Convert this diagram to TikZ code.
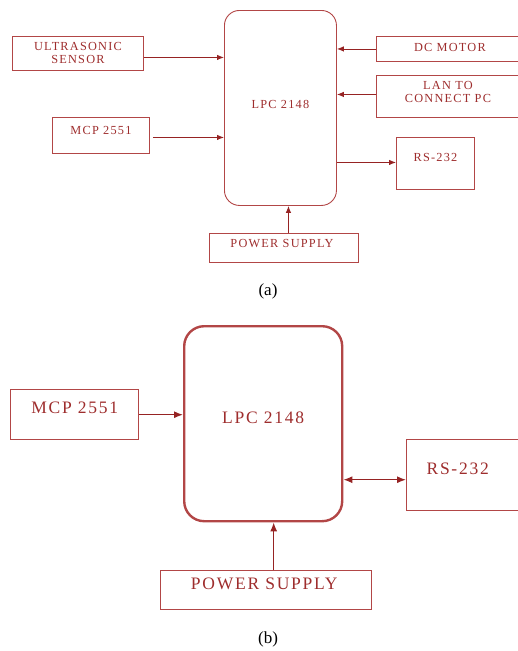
\documentclass[tikz,border=0pt]{standalone}
\usepackage{fontspec}
\setmainfont{Liberation Serif}
\newfontfamily\boxfont[LetterSpace=10]{Liberation Serif}
\usetikzlibrary{arrows.meta}
\definecolor{boxcol}{RGB}{178,70,70}
\definecolor{arrcol}{RGB}{150,35,35}
\definecolor{txtcol}{RGB}{158,45,45}
\tikzset{
  blk/.style={draw=boxcol, line width=0.9pt, anchor=north west, inner sep=0pt},
  blkb/.style={draw=boxcol, line width=1.4pt, anchor=north west, inner sep=0pt},
  lbla/.style={text=txtcol, font=\boxfont\fontsize{12.3}{13}\selectfont, align=center, inner sep=0pt},
  lblb/.style={text=txtcol, font=\boxfont\fontsize{17.5}{20}\selectfont, align=center, inner sep=0pt},
  arra/.style={draw=arrcol, line width=0.9pt, -{Latex[length=7pt,width=5.5pt]}},
  arrb/.style={draw=arrcol, line width=1.2pt, -{Latex[length=9pt,width=7pt]}},
  arrbb/.style={draw=arrcol, line width=1.2pt, {Latex[length=9pt,width=7pt]}-{Latex[length=9pt,width=7pt]}},
  captxt/.style={font=\fontsize{17}{20}\selectfont, inner sep=0pt}
}
\begin{document}
\begin{tikzpicture}[x=1pt,y=-1pt]
\useasboundingbox (0,0) rectangle (518,651);
% ---------- (a)
\node[blk, rounded corners=15pt, minimum width=112pt, minimum height=195pt] (lpcA) at (224,10) {};
\node[lbla] (lpcAt) at ([yshift=3.5pt]lpcA.center) {LPC 2148};
\node[blk, minimum width=131pt, minimum height=34pt] (ultra) at (12,36) {};
\node[lbla] (ultrat) at (ultra.center) {ULTRASONIC\\SENSOR};
\node[blk, minimum width=97pt, minimum height=36pt] (mcpA) at (52,117) {};
\node[lbla] (mcpAt) at ([yshift=5pt]mcpA.center) {MCP 2551};
\node[blk, minimum width=143pt, minimum height=25pt] (dc) at (376,36) {};
\node[lbla] (dct) at ([xshift=2pt,yshift=1.5pt]dc.center) {DC MOTOR};
\node[blk, minimum width=143pt, minimum height=42pt] (lan) at (376,75) {};
\node[lbla] (lant) at ([yshift=4pt]lan.center) {LAN TO\\CONNECT PC};
\node[blk, minimum width=78pt, minimum height=52pt] (rsA) at (396,137) {};
\node[lbla] (rsAt) at ([yshift=6pt]rsA.center) {RS-232};
\node[blk, minimum width=149pt, minimum height=29pt] (pwA) at (209,233) {};
\node[lbla] (pwAt) at ([xshift=-2pt,yshift=4.5pt]pwA.center) {POWER SUPPLY};
\node[captxt] (capA) at (268,291) {(a)};

\draw[arra] ([yshift=-4pt]ultra.east) -- ([yshift=-4pt]ultra.east -| lpcA.west);
\draw[arra] ([xshift=3pt,yshift=-2pt]mcpA.east) -- ([yshift=-2pt]mcpA.east -| lpcA.west);
\draw[arra] (dc.west) -- (dc.west -| lpcA.east);
\draw[arra] ([yshift=2pt]lan.west) -- ([yshift=2pt]lan.west -| lpcA.east);
\draw[arra] ([yshift=1pt]rsA.west -| lpcA.east) -- ([yshift=1pt]rsA.west);
\draw[arra] ([xshift=4.5pt]pwA.north) -- ([xshift=4.5pt]pwA.north |- lpcA.south);

% ---------- (b)
\node[draw=boxcol, line width=2.4pt, anchor=north west, inner sep=0pt, rounded corners=20pt, minimum width=158pt, minimum height=195pt] (lpcB) at (183,325) {};
\node[lblb] (lpcBt) at ([yshift=6pt]lpcB.center) {LPC 2148};
\node[blkb, minimum width=128pt, minimum height=50pt] (mcpB) at (10,389) {};
\node[lblb] (mcpBt) at ([yshift=7pt]mcpB.center) {MCP 2551};
\node[blkb, minimum width=112pt, minimum height=71pt] (rsB) at (406,439) {};
\node[lblb] (rsBt) at ([xshift=-5pt,yshift=6pt]rsB.center) {RS-232};
\node[blkb, minimum width=211pt, minimum height=39pt] (pwB) at (160,570) {};
\node[lblb] (pwBt) at ([xshift=-2pt,yshift=6pt]pwB.center) {POWER SUPPLY};
\node[captxt] (capB) at (268,639) {(b)};

\draw[arrb] (mcpB.east) -- (mcpB.east -| lpcB.west);
\draw[arrbb] ([yshift=-4.5pt]rsB.west -| lpcB.east) -- ([yshift=-4.5pt]rsB.west);
\draw[arrb] ([xshift=7.5pt]pwB.north) -- ([xshift=7.5pt]pwB.north |- lpcB.south);
\end{tikzpicture}
\end{document}
